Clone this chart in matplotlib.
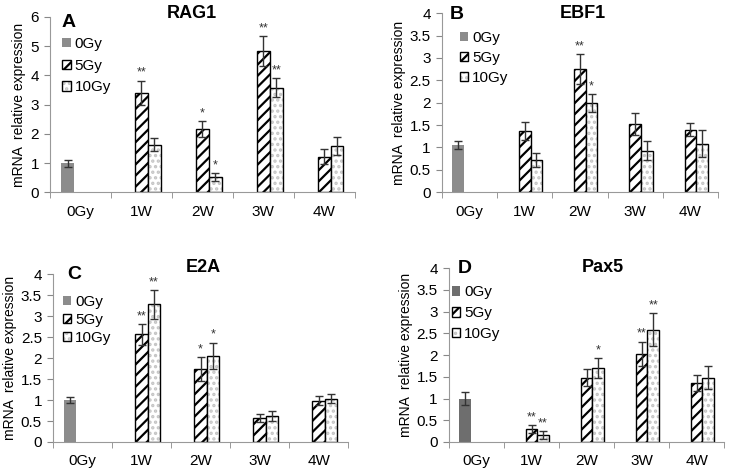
import matplotlib
matplotlib.use("Agg")
import matplotlib.pyplot as plt
import numpy as np

plt.rcParams['font.family'] = ['Liberation Sans', 'DejaVu Sans']
plt.rcParams['hatch.linewidth'] = 1.6

groups = ["0Gy", "1W", "2W", "3W", "4W"]

# RAG1
rag1_ctrl, rag1_ctrl_err = 1.0, 0.12
rag1_5 = [3.40, 2.17, 4.83, 1.22]
rag1_5_err = [0.42, 0.27, 0.52, 0.25]
rag1_10 = [1.62, 0.52, 3.58, 1.58]
rag1_10_err = [0.22, 0.13, 0.33, 0.32]
rag1_5_star = ["**", "*", "**", ""]
rag1_10_star = ["", "*", "**", ""]

# EBF1
ebf1_ctrl, ebf1_ctrl_err = 1.05, 0.09
ebf1_5 = [1.37, 2.75, 1.52, 1.40]
ebf1_5_err = [0.20, 0.33, 0.25, 0.15]
ebf1_10 = [0.72, 2.00, 0.93, 1.08]
ebf1_10_err = [0.15, 0.20, 0.22, 0.30]
ebf1_5_star = ["", "**", "", ""]
ebf1_10_star = ["", "*", "", ""]

# E2A
e2a_ctrl, e2a_ctrl_err = 1.0, 0.07
e2a_5 = [2.57, 1.74, 0.57, 0.98]
e2a_5_err = [0.25, 0.28, 0.10, 0.11]
e2a_10 = [3.28, 2.05, 0.62, 1.03]
e2a_10_err = [0.35, 0.32, 0.12, 0.11]
e2a_5_star = ["**", "*", "", ""]
e2a_10_star = ["**", "*", "", ""]

# Pax5
pax5_ctrl, pax5_ctrl_err = 1.0, 0.15
pax5_5 = [0.30, 1.48, 2.03, 1.35]
pax5_5_err = [0.09, 0.20, 0.28, 0.18]
pax5_10 = [0.17, 1.70, 2.58, 1.48]
pax5_10_err = [0.09, 0.23, 0.38, 0.26]
pax5_5_star = ["**", "", "**", ""]
pax5_10_star = ["**", "*", "**", ""]


def draw_panel(ax, letter, title, ctrl, ctrl_err, v5, e5, v10, e10, s5, s10,
               ymax, ystep, ctrl_color, title_pos, letter_pos, leg_pos, leg_space):
    w = 0.21
    x = np.arange(1, len(groups))
    err_kw = dict(ecolor='#333333', elinewidth=1.0, capsize=3, capthick=1.0)
    h0 = ax.bar(0 - w, ctrl, w, color=ctrl_color, yerr=ctrl_err,
                error_kw=err_kw, zorder=2)
    h5 = ax.bar(x, v5, w, facecolor='white', edgecolor='black', hatch='///',
                linewidth=1.0, zorder=2)
    ax.errorbar(x, v5, yerr=e5, fmt='none', zorder=3, **err_kw)
    hd = ax.bar(x + w, v10, w, facecolor='white', edgecolor='#c4c4c4',
                hatch='...', linewidth=0, zorder=2)
    he = ax.bar(x + w, v10, w, fill=False, edgecolor='black', linewidth=1.0,
                zorder=2)
    ax.errorbar(x + w, v10, yerr=e10, fmt='none', zorder=3, **err_kw)
    off = ymax * 0.01
    for xi, v, e, s in zip(x, v5, e5, s5):
        if s:
            ax.text(xi, v + e + off, s, ha='center', va='bottom',
                    fontsize=9, color='#333333')
    for xi, v, e, s in zip(x + w, v10, e10, s10):
        if s:
            ax.text(xi, v + e + off, s, ha='center', va='bottom',
                    fontsize=9, color='#333333')

    ax.set_xlim(-0.5, len(groups) - 0.5)
    ax.set_ylim(0, ymax)
    yt = np.arange(0, ymax + 0.001, ystep)
    ax.set_yticks(yt)
    ax.set_yticklabels([("%g" % t) for t in yt])
    ax.set_xticks(np.arange(len(groups)))
    ax.set_xticklabels(groups)
    ax.set_xticks(np.arange(-0.5, len(groups)), minor=True)
    ax.tick_params(axis='x', which='major', length=0, pad=9, labelsize=11)
    ax.tick_params(axis='x', which='minor', length=4, color='#888888')
    ax.tick_params(axis='y', length=4, color='#888888', labelsize=11, pad=4)
    for sp in ['top', 'right']:
        ax.spines[sp].set_visible(False)
    for sp in ['left', 'bottom']:
        ax.spines[sp].set_color('#999999')
    ax.set_ylabel("mRNA  relative expression", fontsize=10, labelpad=3)
    ax.text(title_pos[0], title_pos[1], title, transform=ax.transAxes,
            ha='center', va='center', fontsize=13, fontweight='bold')
    ax.text(letter_pos[0], letter_pos[1], letter, transform=ax.transAxes,
            ha='left', va='center', fontsize=14, fontweight='bold')
    ax.legend([h0, h5, (hd, he)], ["0Gy", "5Gy", "10Gy"], loc='upper left',
              bbox_to_anchor=leg_pos, frameon=False, fontsize=11,
              handlelength=0.55, handleheight=0.55, handletextpad=0.25,
              labelspacing=leg_space, borderpad=0, borderaxespad=0)


fig = plt.figure(figsize=(7.36, 4.70), dpi=100)
axA = fig.add_axes([0.068, 0.591, 0.414, 0.373])
axB = fig.add_axes([0.6005, 0.591, 0.375, 0.381])
axC = fig.add_axes([0.072, 0.0596, 0.401, 0.357])
axD = fig.add_axes([0.610, 0.0596, 0.374, 0.370])

draw_panel(axA, "A", "RAG1", rag1_ctrl, rag1_ctrl_err, rag1_5, rag1_5_err,
           rag1_10, rag1_10_err, rag1_5_star, rag1_10_star, 6, 1, '#8c8c8c',
           (0.466, 1.02), (0.039, 0.97), (0.04, 0.885), 0.5)
draw_panel(axB, "B", "EBF1", ebf1_ctrl, ebf1_ctrl_err, ebf1_5, ebf1_5_err,
           ebf1_10, ebf1_10_err, ebf1_5_star, ebf1_10_star, 4, 0.5, '#8c8c8c',
           (0.51, 1.0), (0.03, 0.99), (0.065, 0.9), 0.4)
draw_panel(axC, "C", "E2A", e2a_ctrl, e2a_ctrl_err, e2a_5, e2a_5_err,
           e2a_10, e2a_10_err, e2a_5_star, e2a_10_star, 4, 0.5, '#8c8c8c',
           (0.51, 1.04), (0.05, 1.0), (0.034, 0.875), 0.25)
draw_panel(axD, "D", "Pax5", pax5_ctrl, pax5_ctrl_err, pax5_5, pax5_5_err,
           pax5_10, pax5_10_err, pax5_5_star, pax5_10_star, 4, 0.5, '#6e6e6e',
           (0.56, 1.006), (0.033, 1.0), (0.01, 0.9), 0.45)

fig.savefig("out.png", dpi=100)
